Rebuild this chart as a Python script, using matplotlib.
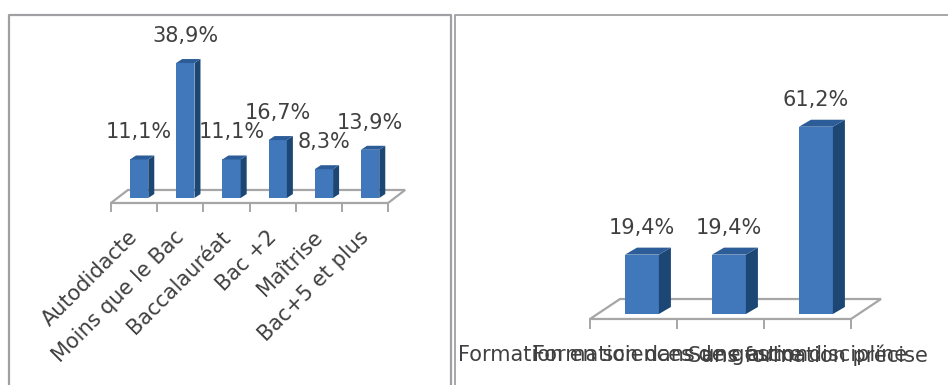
import matplotlib
matplotlib.use('Agg')
import matplotlib.pyplot as plt
from matplotlib.patches import Polygon, Rectangle
from matplotlib.lines import Line2D

# donnees
niveaux = ['Autodidacte', 'Moins que le Bac', 'Baccalauréat', 'Bac +2',
           'Maîtrise', 'Bac+5 et plus']
niveaux_pct = [11.1, 38.9, 11.1, 16.7, 8.3, 13.9]

formations = ['Formation en sciences de gestion',
              'Formation dans une autre discipline',
              'Sans formation précise']
formations_pct = [19.4, 19.4, 61.2]

W, H = 948, 385
TXT = '#404040'
GRID = '#a6a6a6'
FRONT = '#4178bc'
SIDE = '#1c4775'
TOP = '#2c5d98'
FS = 15

plt.rcParams['font.family'] = ['DejaVu Sans']

fig = plt.figure(figsize=(W / 100, H / 100), dpi=100)


def make_axes(px_left, px_right, px_top, px_bottom, x0, step, y0, scale):
    # axes placed in pixels, data limits so that category i sits at x0 + i*step
    ax = fig.add_axes([px_left / W, 1 - px_bottom / H,
                       (px_right - px_left) / W, (px_bottom - px_top) / H])
    ax.set_xlim((px_left - x0) / step, (px_right - x0) / step)
    ax.set_ylim((y0 - px_bottom) / scale, (y0 - px_top) / scale)
    ax.axis('off')
    return ax


def draw_chart(ax, labels, values, g, rotate):
    n = len(values)
    ff, fb, fdx = g['floor_front'], g['floor_back'], g['floor_dx']
    floor = Polygon([(-0.5, ff), (n - 0.5, ff), (n - 0.5 + fdx, fb),
                     (-0.5 + fdx, fb)], closed=True, facecolor='white',
                    edgecolor=GRID, lw=1.6, zorder=1)
    ax.add_patch(floor)
    for k in range(n + 1):
        ax.plot([k - 0.5, k - 0.5], [ff, ff - g['tick_len']], color=GRID,
                lw=1.4, zorder=1, clip_on=False)

    for i, v in enumerate(values):
        x = i + g['bar_off']
        w = g['bar_w']
        dx, dy = g['dx'], g['dy']
        ax.add_patch(Rectangle((x, 0), w, v, facecolor=FRONT, edgecolor='none',
                               zorder=3))
        ax.add_patch(Polygon([(x + w, 0), (x + w + dx, dy), (x + w + dx, v + dy),
                              (x + w, v)], facecolor=SIDE, edgecolor='none',
                             zorder=3))
        ax.add_patch(Polygon([(x, v), (x + w, v), (x + w + dx, v + dy),
                              (x + dx, v + dy)], facecolor=TOP, edgecolor='none',
                             zorder=3))
        ax.annotate(f'{v:.1f}%'.replace('.', ','), (x + w / 2, v),
                    xytext=(0, 27), textcoords='offset pixels',
                    ha='center', va='center', fontsize=FS, color=TXT,
                    zorder=5, annotation_clip=False)

    for i, lab in enumerate(labels):
        if rotate:
            ax.annotate(lab, (i, ff), xytext=(1, -31), textcoords='offset pixels',
                        ha='right', va='center', rotation=45,
                        rotation_mode='anchor', fontsize=FS, color=TXT,
                        annotation_clip=False)
        else:
            ax.annotate(lab, (i, ff), xytext=(0, -36), textcoords='offset pixels',
                        ha='center', va='center', fontsize=FS, color=TXT,
                        annotation_clip=False)


ax1 = make_axes(10, 450, 16, 385, 134, 46.2, 198, 3.47)
draw_chart(ax1, niveaux, niveaux_pct,
           dict(bar_off=-0.087, bar_w=0.396, dx=0.13, dy=1.15,
                floor_front=-1.44, floor_back=2.31, floor_dx=0.368,
                tick_len=2.3), rotate=True)

ax2 = make_axes(456, 946, 16, 385, 633.5, 87, 314, 3.06)
draw_chart(ax2, formations, formations_pct,
           dict(bar_off=-0.098, bar_w=0.39, dx=0.138, dy=2.29,
                floor_front=-1.63, floor_back=4.9, floor_dx=0.345,
                tick_len=2.94), rotate=False)

# cadres des deux graphiques
def fig_line(xs, ys, lw=1.6):
    fig.add_artist(Line2D([x / W for x in xs], [1 - y / H for y in ys],
                          color='#a0a0a4', lw=lw))

fig_line([8.5, 8.5, 451, 451], [385, 14.5, 14.5, 385])
fig_line([455, 455, 948], [385, 14.5, 14.5], lw=1.3)

fig.savefig('out.png', dpi=100, facecolor='white')
